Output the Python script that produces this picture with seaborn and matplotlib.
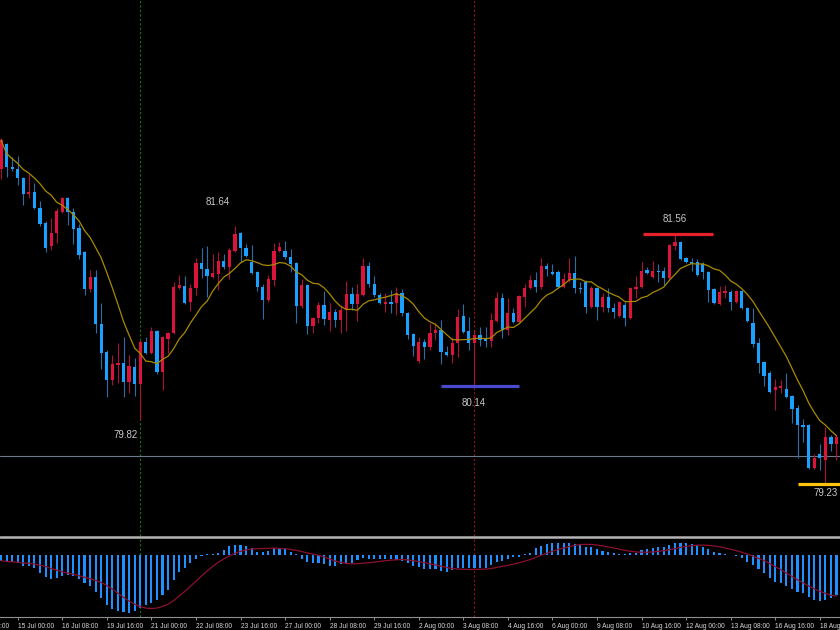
import numpy as np
import pandas as pd
import seaborn as sns
import matplotlib.pyplot as plt
from matplotlib.lines import Line2D

# 4H candles (151 bars)
open_ = [82.17, 82.40, 82.19, 82.17, 82.09, 81.94, 81.96, 81.81, 81.67, 81.45,
         81.57, 81.77, 81.90, 81.77, 81.62, 81.39, 81.05, 81.16, 80.72, 80.46,
         80.20, 80.34, 80.36, 80.18, 80.32, 80.16, 80.55, 80.45, 80.66, 80.27,
         80.58, 80.64, 81.06, 81.08, 80.93, 81.06, 81.29, 81.24, 81.16, 81.19,
         81.31, 81.25, 81.40, 81.57, 81.43, 81.30, 81.21, 81.07, 80.95, 81.13,
         81.40, 81.40, 81.35, 81.29, 80.89, 81.09, 80.70, 80.78, 80.90, 80.76,
         80.83, 80.76, 80.85, 81.00, 80.91, 80.99, 81.26, 81.10, 80.99, 80.91,
         80.93, 80.92, 81.01, 80.82, 80.63, 80.38, 80.55, 80.51, 80.64, 80.67,
         80.46, 80.43, 80.54, 80.80, 80.66, 80.54, 80.62, 80.59, 80.56, 80.75,
         80.96, 80.67, 80.82, 80.74, 80.97, 81.06, 81.13, 81.07, 81.26, 81.21,
         81.21, 81.07, 81.13, 81.20, 81.06, 81.11, 80.88, 81.06, 80.88, 80.97,
         80.87, 80.80, 80.90, 80.78, 81.05, 81.07, 81.23, 81.16, 81.22, 81.22,
         81.15, 81.45, 81.49, 81.34, 81.30, 81.30, 81.28, 81.21, 81.05, 80.91,
         81.01, 81.02, 80.93, 81.03, 80.87, 80.73, 80.54, 80.37, 80.26, 80.10,
         80.12, 80.11, 80.05, 79.94, 79.78, 79.78, 79.38, 79.51, 79.45, 79.67,
         79.60]
high = [82.46, 82.41, 82.28, 82.29, 82.10, 82.12, 82.04, 81.87, 81.68, 81.71,
        81.81, 81.91, 81.91, 81.81, 81.66, 81.40, 81.23, 81.23, 80.92, 80.48,
        80.43, 80.54, 80.60, 80.43, 80.40, 80.57, 80.60, 80.69, 80.67, 80.61,
        80.65, 81.11, 81.18, 81.17, 81.10, 81.34, 81.43, 81.45, 81.38, 81.39,
        81.38, 81.43, 81.64, 81.58, 81.47, 81.46, 81.22, 81.10, 81.18, 81.48,
        81.49, 81.50, 81.42, 81.30, 81.14, 81.10, 80.79, 80.93, 81.03, 80.92,
        80.86, 80.90, 81.12, 81.07, 81.10, 81.34, 81.30, 81.17, 81.01, 81.01,
        81.04, 81.07, 81.05, 80.83, 80.64, 80.60, 80.58, 80.73, 80.73, 80.76,
        80.52, 80.60, 80.86, 80.91, 80.79, 80.67, 80.69, 80.69, 80.82, 81.02,
        81.01, 80.96, 80.87, 80.99, 81.10, 81.18, 81.21, 81.34, 81.29, 81.28,
        81.23, 81.20, 81.34, 81.36, 81.11, 81.13, 81.08, 81.07, 81.01, 81.06,
        80.92, 80.94, 80.93, 81.07, 81.17, 81.30, 81.25, 81.31, 81.28, 81.25,
        81.47, 81.56, 81.50, 81.35, 81.34, 81.33, 81.30, 81.22, 81.06, 81.08,
        81.09, 81.04, 81.04, 81.04, 80.88, 80.87, 80.59, 80.38, 80.28, 80.21,
        80.20, 80.26, 80.06, 79.96, 79.83, 79.79, 79.51, 79.60, 79.76, 79.68,
        79.68]
low = [82.08, 82.10, 82.15, 82.02, 81.83, 81.90, 81.80, 81.64, 81.39, 81.41,
       81.48, 81.76, 81.65, 81.47, 81.33, 80.99, 81.02, 80.64, 80.30, 80.04,
       80.15, 80.17, 80.04, 80.08, 80.05, 79.82, 80.44, 80.44, 80.25, 80.10,
       80.45, 80.63, 81.05, 80.91, 80.84, 80.99, 81.15, 80.97, 81.15, 81.04,
       81.24, 81.14, 81.39, 81.30, 81.35, 81.19, 81.03, 80.77, 80.93, 81.08,
       81.39, 81.33, 81.21, 80.73, 80.87, 80.63, 80.64, 80.73, 80.71, 80.66,
       80.69, 80.64, 80.66, 80.85, 80.75, 80.98, 81.07, 80.97, 80.91, 80.83,
       80.82, 80.81, 80.80, 80.58, 80.42, 80.36, 80.39, 80.48, 80.57, 80.35,
       80.42, 80.36, 80.41, 80.64, 80.48, 80.14, 80.52, 80.51, 80.51, 80.74,
       80.59, 80.62, 80.73, 80.73, 80.88, 81.05, 81.02, 81.05, 81.17, 81.18,
       81.06, 81.06, 81.11, 81.01, 81.01, 80.82, 80.87, 80.76, 80.83, 80.83,
       80.78, 80.79, 80.70, 80.77, 80.96, 81.06, 81.19, 81.15, 81.11, 81.09,
       81.14, 81.41, 81.32, 81.29, 81.22, 81.17, 81.14, 80.93, 80.91, 80.90,
       80.96, 80.85, 80.92, 80.86, 80.74, 80.51, 80.26, 80.14, 80.08, 79.92,
       80.08, 80.03, 79.80, 79.47, 79.62, 79.37, 79.37, 79.36, 79.23, 79.53,
       79.45]
close = [82.44, 82.19, 82.17, 82.09, 81.94, 81.96, 81.81, 81.66, 81.43, 81.57,
         81.78, 81.90, 81.77, 81.61, 81.37, 81.05, 81.16, 80.72, 80.45, 80.20,
         80.35, 80.36, 80.18, 80.33, 80.16, 80.55, 80.45, 80.66, 80.27, 80.60,
         80.64, 81.07, 81.09, 80.92, 81.06, 81.29, 81.24, 81.17, 81.20, 81.31,
         81.25, 81.41, 81.56, 81.43, 81.36, 81.20, 81.07, 80.95, 81.14, 81.40,
         81.44, 81.35, 81.28, 80.89, 81.09, 80.70, 80.78, 80.90, 80.77, 80.83,
         80.76, 80.85, 81.00, 80.91, 81.00, 81.26, 81.10, 80.99, 80.92, 80.93,
         80.91, 81.01, 80.82, 80.62, 80.52, 80.55, 80.51, 80.64, 80.67, 80.46,
         80.43, 80.54, 80.79, 80.65, 80.54, 80.62, 80.57, 80.56, 80.76, 80.96,
         80.67, 80.82, 80.74, 80.98, 81.06, 81.13, 81.07, 81.26, 81.24, 81.19,
         81.07, 81.14, 81.20, 81.06, 81.05, 80.88, 81.06, 80.88, 80.97, 80.87,
         80.83, 80.93, 80.78, 81.06, 81.07, 81.22, 81.20, 81.22, 81.21, 81.15,
         81.46, 81.49, 81.33, 81.30, 81.28, 81.18, 81.21, 81.04, 80.92, 81.02,
         81.03, 80.93, 81.03, 80.87, 80.75, 80.53, 80.36, 80.24, 80.09, 80.13,
         80.14, 80.04, 79.93, 79.78, 79.76, 79.38, 79.47, 79.47, 79.67, 79.60,
         79.67]

# MACD main values (histogram)
macd = [-0.051, -0.066, -0.066, -0.075, -0.099, -0.096, -0.120, -0.159, -0.195, -0.219,
        -0.210, -0.189, -0.180, -0.186, -0.216, -0.255, -0.279, -0.330, -0.390, -0.450,
        -0.489, -0.504, -0.513, -0.519, -0.507, -0.480, -0.450, -0.429, -0.405, -0.360,
        -0.315, -0.225, -0.156, -0.120, -0.075, -0.039, -0.009, 0.006, 0.009, 0.021,
        0.045, 0.081, 0.090, 0.090, 0.084, 0.060, 0.030, 0.024, 0.039, 0.060,
        0.060, 0.060, 0.030, 0.009, -0.036, -0.060, -0.069, -0.075, -0.084, -0.099,
        -0.099, -0.084, -0.075, -0.075, -0.045, -0.030, -0.036, -0.039, -0.039, -0.039,
        -0.039, -0.045, -0.051, -0.075, -0.099, -0.105, -0.129, -0.129, -0.129, -0.141,
        -0.150, -0.135, -0.120, -0.120, -0.120, -0.120, -0.120, -0.120, -0.090, -0.060,
        -0.051, -0.039, -0.021, -0.015, 0.009, 0.021, 0.060, 0.081, 0.099, 0.105,
        0.105, 0.105, 0.105, 0.099, 0.090, 0.075, 0.069, 0.051, 0.039, 0.024,
        0.015, 0.009, 0.006, 0.015, 0.021, 0.045, 0.051, 0.060, 0.069, 0.069,
        0.090, 0.105, 0.105, 0.105, 0.099, 0.090, 0.069, 0.051, 0.024, 0.015,
        0.009, 0.003, -0.009, -0.030, -0.060, -0.090, -0.129, -0.165, -0.210, -0.240,
        -0.255, -0.279, -0.309, -0.330, -0.339, -0.375, -0.405, -0.414, -0.405, -0.390,
        -0.360]

tick_bars = list(range(-5, 151, 8))
tick_labels = ['13 Jul 16:00', '15 Jul 00:00', '16 Jul 08:00', '19 Jul 16:00',
               '21 Jul 00:00', '22 Jul 08:00', '23 Jul 16:00', '27 Jul 00:00',
               '28 Jul 08:00', '29 Jul 16:00', '2 Aug 00:00', '3 Aug 08:00',
               '4 Aug 16:00', '6 Aug 00:00', '9 Aug 08:00', '10 Aug 16:00',
               '12 Aug 00:00', '13 Aug 08:00', '16 Aug 16:00', '18 Aug 00:00']

# marked levels: high / low swings
level_values = [81.56, 80.14, 79.23]
level_from = [115.3, 79.0, 143.1]
level_to = [127.8, 93.05, 152.0]
level_colors = ['#e8202a', '#4a4ad0', '#ffc20e']

swing_labels = ['81.64', '79.82', '80.14', '81.56', '79.23']
swing_pos = [(39.0, 81.86), (22.4, 79.68), (84.9, 79.98), (121.0, 81.70), (148.1, 79.14)]

bid_price = 79.49
marker_bars = [25, 85]
marker_colors = ['#127a12', '#9a1010']

sns.set_theme(style="dark", rc={"axes.facecolor": "black", "figure.facecolor": "black"})
plt.rcParams['font.family'] = ['Liberation Sans', 'DejaVu Sans']

df = pd.DataFrame({'open': open_, 'high': high, 'low': low, 'close': close, 'macd': macd})
df['bar'] = np.arange(len(df))
df['ma'] = df['close'].rolling(10, min_periods=1).mean()
df['signal'] = df['macd'].rolling(9, min_periods=1).mean()
up = (df['close'] >= df['open']).values

fig = plt.figure(figsize=(8.4, 6.3), dpi=100, facecolor='black')
ax = fig.add_axes([0, 94 / 630, 1, 536 / 630])
ax2 = fig.add_axes([0, 13 / 630, 1, 78 / 630])

xlim = (-0.18, 150.63)

# main panel
for b, c in zip(marker_bars, marker_colors):
    ax.axvline(b, color=c, lw=0.8, ls=(0, (2, 2)), zorder=1)
    ax2.axvline(b, color=c, lw=0.8, ls=(0, (2, 2)), zorder=1)

ax.axhline(bid_price, color='#6c7a89', lw=0.8, zorder=1)

ax.vlines(df['bar'], df['low'], df['high'],
          colors=np.where(up, '#a8123a', '#2a6ea8'), lw=0.8, zorder=2)
body_lo = np.minimum(df['open'], df['close'])
body_h = np.maximum((df['close'] - df['open']).abs(), 0.01)
ax.bar(df['bar'], body_h, bottom=body_lo, width=0.58,
       color=np.where(up, '#dc143c', '#1aa0ff'), linewidth=0, antialiased=False, zorder=3)

sns.lineplot(data=df, x='bar', y='ma', ax=ax, color='#a88a00', lw=0.9, zorder=4)

for v, a, b, c in zip(level_values, level_from, level_to, level_colors):
    ax.hlines(v, a, b, colors=c, lw=2.3, zorder=5)

for t, (bx, by) in zip(swing_labels, swing_pos):
    ax.text(bx, by, t, color='#c8c8c8', fontsize=7, ha='center', va='center')

ax.set_xticks([])
ax.set_yticks([])
ax.set_xlim(*xlim)
ax.set_ylim(78.74, 83.75)
ax.set_xlabel('')
ax.set_ylabel('')
for s in ax.spines.values():
    s.set_visible(False)

# MACD panel
ax2.bar(df['bar'], df['macd'], width=0.38, color='#1e90ff', linewidth=0,
        antialiased=False, zorder=2)
sns.lineplot(data=df, x='bar', y='signal', ax=ax2, color='#8c1030', lw=0.9, zorder=3)
ax2.set_yticks([])
ax2.set_xticks(tick_bars[1:])
ax2.set_xticklabels(tick_labels[1:], ha='left')
ax2.set_xlim(*xlim)
ax2.set_ylim(-0.558, 0.144)
ax2.set_xlabel('')
ax2.set_ylabel('')
ax2.tick_params(axis='x', colors='#909090', direction='out', length=2.5, width=0.7,
                pad=1.5, labelsize=4.8, labelcolor='#d8d8d8', bottom=True)
# first label starts left of the window, only its tail shows
ax2.annotate(tick_labels[0], xy=(tick_bars[0], 0), xycoords=('data', 'axes fraction'),
             xytext=(0, -4.3), textcoords='offset points', ha='left', va='top',
             fontsize=4.8, color='#d8d8d8', annotation_clip=False)
for name, s in ax2.spines.items():
    s.set_visible(name == 'bottom')
ax2.spines['bottom'].set_color('#909090')
ax2.spines['bottom'].set_linewidth(0.8)

# separator between panels
sep_y = (630 - 537) / 630
fig.add_artist(Line2D([0, 1], [sep_y, sep_y], color='#b4b4b4', lw=1.8))

fig.savefig('out.png', dpi=100, facecolor='black')
